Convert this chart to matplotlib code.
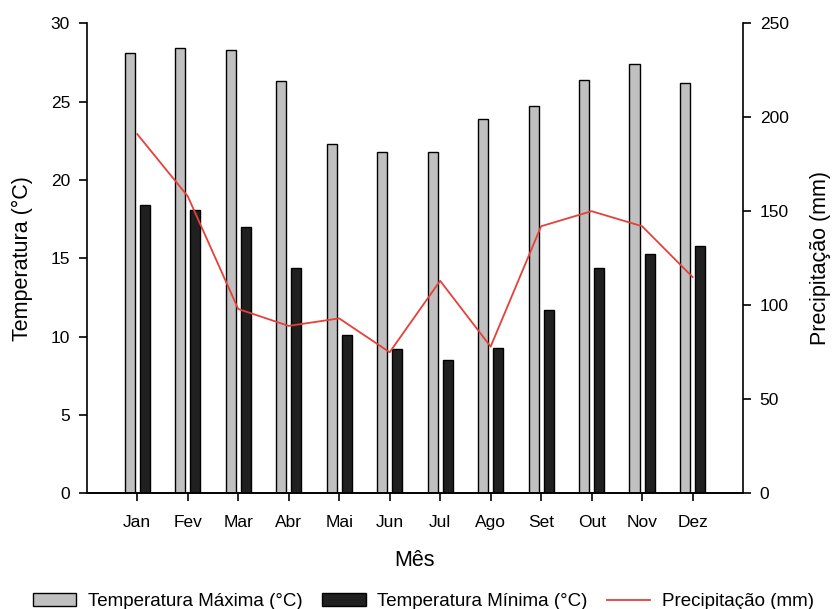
import numpy as np
import matplotlib
matplotlib.use("Agg")
import matplotlib.pyplot as plt
from matplotlib.patches import Patch
from matplotlib.lines import Line2D

plt.rcParams["font.family"] = ["Liberation Sans", "DejaVu Sans"]

meses = ["Jan", "Fev", "Mar", "Abr", "Mai", "Jun", "Jul", "Ago", "Set", "Out", "Nov", "Dez"]
temp_max = [28.1, 28.4, 28.3, 26.3, 22.3, 21.8, 21.8, 23.9, 24.7, 26.4, 27.4, 26.2]
temp_min = [18.4, 18.1, 17.0, 14.4, 10.1, 9.2, 8.5, 9.3, 11.7, 14.4, 15.3, 15.8]
precip = [191, 158, 98, 89, 93, 75, 113, 78, 142, 150, 142, 115]

x = np.arange(len(meses))
cinza = "#c0c0c0"
preto = "#202020"
vermelho = "#e6403a"

fig = plt.figure(figsize=(8.34, 6.09), dpi=100)
ax = fig.add_axes([0.104, 0.190, 0.787, 0.772])

ax.bar(x - 0.15, temp_max, width=0.2, color=cinza, edgecolor="black", linewidth=1)
ax.bar(x + 0.15, temp_min, width=0.2, color=preto, edgecolor="black", linewidth=1)
ax.set_ylim(0, 30)
ax.set_yticks(range(0, 31, 5))
ax.set_xlim(-1, 12)
ax.set_xticks(x)
ax.set_xticklabels(meses)
ax.set_xlabel("Mês", fontsize=15.5)
ax.set_ylabel("Temperatura (°C)", fontsize=15.5)
ax.xaxis.set_label_coords(0.5, -0.121)
ax.yaxis.set_label_coords(-0.082, 0.5)
ax.spines["top"].set_visible(False)
ax.spines["right"].set_visible(False)
ax.tick_params(labelsize=12.5, length=5.5, width=1.2, direction="out", pad=6.5)
ax.tick_params(axis="x", pad=10)

ax2 = ax.twinx()
ax2.plot(x, precip, color=vermelho, linewidth=1.3)
ax2.set_ylim(0, 250)
ax2.set_yticks(range(0, 251, 50))
ax2.set_ylabel("Precipitação (mm)", fontsize=15.5)
ax2.yaxis.set_label_coords(1.102, 0.5)
ax2.spines["top"].set_visible(False)
ax2.spines["left"].set_visible(False)
ax2.tick_params(labelsize=12.5, length=6, width=1.2, direction="out", pad=6)

for a in (ax, ax2):
    for s in a.spines.values():
        s.set_linewidth(1.2)

handles = [
    Patch(facecolor=cinza, edgecolor="black", label="Temperatura Máxima (°C)"),
    Patch(facecolor=preto, edgecolor="black", label="Temperatura Mínima (°C)"),
    Line2D([0], [0], color=vermelho, linewidth=1.3, label="Precipitação (mm)"),
]
fig.legend(handles=handles, loc="lower center", ncol=3, frameon=False, fontsize=13.5,
           bbox_to_anchor=(0.508, -0.03), handlelength=2.3, handletextpad=0.62,
           columnspacing=1.05)

fig.savefig("out.png", dpi=100)
